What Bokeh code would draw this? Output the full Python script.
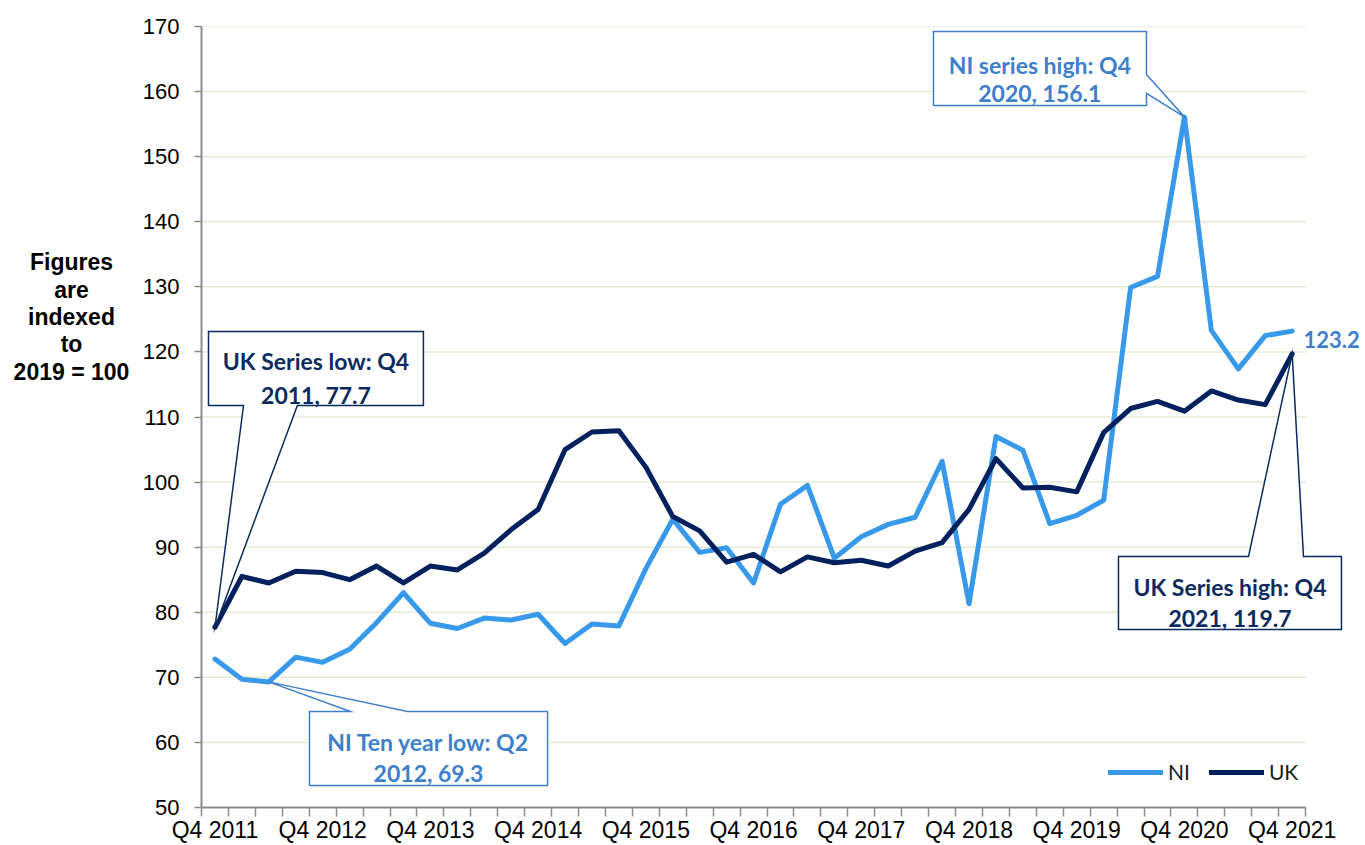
from bokeh.plotting import figure
from bokeh.layouts import row
from bokeh.models import (FixedTicker, Label, Legend, LegendItem,
                          ColumnDataSource, Range1d)
from bokeh.core.properties import value
from bokeh.embed import file_html
from bokeh.resources import INLINE

# ---------------- data ----------------
quarter_index = list(range(41))  # Q4 2011 ... Q4 2021
tick_positions = [0, 4, 8, 12, 16, 20, 24, 28, 32, 36, 40]
tick_labels = ["Q4 2011", "Q4 2012", "Q4 2013", "Q4 2014", "Q4 2015",
               "Q4 2016", "Q4 2017", "Q4 2018", "Q4 2019", "Q4 2020",
               "Q4 2021"]

ni = [72.8, 69.7, 69.3, 73.1, 72.3, 74.3, 78.4, 83.0, 78.3, 77.5,
      79.1, 78.8, 79.7, 75.2, 78.2, 77.9, 86.7, 94.3, 89.2, 89.9,
      84.5, 96.6, 99.5, 88.3, 91.6, 93.5, 94.6, 103.2, 81.3, 107.0,
      104.9, 93.6, 94.9, 97.2, 129.9, 131.6, 156.1, 123.3, 117.4, 122.5,
      123.2]
uk = [77.7, 85.5, 84.5, 86.3, 86.1, 85.0, 87.1, 84.5, 87.1, 86.5,
      89.1, 92.7, 95.8, 105.0, 107.7, 107.9, 102.3, 94.7, 92.5, 87.7,
      88.9, 86.2, 88.5, 87.6, 88.0, 87.1, 89.4, 90.7, 95.8, 103.6,
      99.1, 99.2, 98.5, 107.6, 111.3, 112.4, 110.9, 114.0, 112.6, 111.9,
      119.7]
y_ticks = [50, 60, 70, 80, 90, 100, 110, 120, 130, 140, 150, 160, 170]
y_title_lines = ["Figures", "are", "indexed", "to", "2019 = 100"]

# ---------------- styling ----------------
NI_COLOR = "#3899EB"
UK_COLOR = "#00215E"
NI_NOTE = "#3E7FCC"
UK_NOTE = "#0B2A5E"
GRID = "#E3EAD3"
AXIS = "#8C8C8C"
NOTE_FONT = "Lato"
TICK_FONT = "Liberation Sans"

TOTAL_W, H = 1365, 845
TITLE_W = 135
W = TOTAL_W - TITLE_W
LEFT, RIGHT, TOP, BOTTOM = 66, 0, 26, 37
px_per_cat = 26.93
x_end = -0.5 + (W - LEFT - RIGHT) / px_per_cat

# ---------------- side figure with the horizontal y-axis title ----------------
t = figure(width=TITLE_W, height=H, output_backend="svg",
           toolbar_location=None, x_range=Range1d(0, TITLE_W),
           y_range=Range1d(50, 170), min_border_left=0, min_border_right=0,
           min_border_top=TOP, min_border_bottom=BOTTOM)
t.axis.visible = False
t.grid.grid_line_color = None
t.outline_line_color = None
t.text(x=[71] * len(y_title_lines),
       y=[133.74, 129.59, 125.29, 121.14, 116.89],
       text=y_title_lines, text_align="center", text_baseline="alphabetic",
       text_font=value(TICK_FONT), text_font_style="bold",
       text_font_size="23px", text_color="#000000")

# ---------------- main chart ----------------
p = figure(width=W, height=H, output_backend="svg", toolbar_location=None,
           x_range=Range1d(-0.5, x_end), y_range=Range1d(50, 170),
           min_border_left=LEFT, min_border_right=RIGHT,
           min_border_top=TOP, min_border_bottom=BOTTOM)
p.outline_line_color = None
p.xgrid.grid_line_color = None
p.ygrid.grid_line_color = None
p.background_fill_color = "white"

# horizontal gridlines, limited to the category span
grid_y = [v for v in y_ticks if v > 50]
p.segment(x0=[-0.5] * len(grid_y), x1=[40.5] * len(grid_y),
          y0=grid_y, y1=grid_y, line_color=GRID, line_width=1.5)

# axes
xa = p.xaxis[0]
xa.ticker = FixedTicker(ticks=tick_positions,
                        minor_ticks=[i - 0.5 for i in range(42)])
xa.major_label_overrides = {t_: l for t_, l in zip(tick_positions, tick_labels)}
xa.bounds = (-0.5, 40.5)
xa.axis_line_color = AXIS
xa.axis_line_width = 2
xa.major_tick_out = 0
xa.major_tick_in = 0
xa.minor_tick_out = 9
xa.minor_tick_in = 0
xa.minor_tick_line_color = AXIS
xa.minor_tick_line_width = 1.5
xa.major_label_standoff = 0
xa.major_label_text_font = TICK_FONT
xa.major_label_text_font_size = "23px"
xa.major_label_text_color = "#000000"

ya = p.yaxis[0]
ya.ticker = FixedTicker(ticks=y_ticks, minor_ticks=[])
ya.axis_line_color = AXIS
ya.axis_line_width = 2
ya.major_tick_out = 7
ya.major_tick_in = 0
ya.major_tick_line_color = AXIS
ya.major_tick_line_width = 1.5
ya.minor_tick_out = 0
ya.major_label_standoff = 15
ya.major_label_text_font = TICK_FONT
ya.major_label_text_font_size = "22px"
ya.major_label_text_color = "#000000"

# series
src = ColumnDataSource(dict(x=quarter_index, ni=ni, uk=uk))
r_ni = p.line("x", "ni", source=src, line_color=NI_COLOR, line_width=5,
              line_join="round", line_cap="round")
r_uk = p.line("x", "uk", source=src, line_color=UK_COLOR, line_width=5,
              line_join="round", line_cap="round")

legend = Legend(items=[LegendItem(label="NI", renderers=[r_ni]),
                       LegendItem(label="UK", renderers=[r_uk])],
                orientation="horizontal", location=(907, 23),
                glyph_width=55, glyph_height=20, label_height=20,
                label_standoff=5, spacing=19, padding=0, margin=0,
                border_line_color=None, background_fill_alpha=0,
                label_text_font=NOTE_FONT, label_text_font_size="21px",
                label_text_color="#1A1A1A")
p.add_layout(legend)

# ---------------- callouts ----------------
def callout(box, wedge, side, tip, color, lines, text_x, baselines):
    L, R, T, B = box
    w1, w2 = wedge
    tx, ty = tip
    if side == "bottom":
        xs = [L, R, R, w2, tx, w1, L]
        ys = [T, T, B, B, ty, B, B]
    elif side == "top":
        xs = [L, w1, tx, w2, R, R, L]
        ys = [T, T, ty, T, T, B, B]
    else:  # right
        xs = [L, R, R, tx, R, R, L]
        ys = [T, T, w1, ty, w2, B, B]
    p.patch(xs, ys, fill_color="white", line_color=color, line_width=1.5,
            line_join="miter")
    for txt, by in zip(lines, baselines):
        p.add_layout(Label(x=text_x, y=by, text=txt, text_font=NOTE_FONT,
                           text_font_size="23px", text_font_style="bold",
                           text_color=color, text_align="center",
                           text_baseline="alphabetic"))

callout((-0.24, 7.74, 123.14, 111.77), (1.06, 3.06), "bottom",
        (0, uk[0]), UK_NOTE, ["UK Series low: Q4", "2011, 77.7"],
        3.75, [118.58, 113.35])
callout((3.51, 12.35, 64.75, 53.38), (5.03, 7.15), "top",
        (2, ni[2]), NI_NOTE, ["NI Ten year low: Q2", "2012, 69.3"],
        7.93, [60.03, 55.33])
callout((26.68, 34.59, 169.24, 157.87), (162.63, 159.71), "right",
        (36, ni[36]), NI_NOTE, ["NI series high: Q4", "2020, 156.1"],
        30.63, [164.09, 159.71])
callout((33.55, 41.83, 88.57, 77.35), (38.38, 40.42), "top",
        (40, uk[40]), UK_NOTE, ["UK Series high: Q4", "2021, 119.7"],
        37.69, [83.91, 79.15])

p.add_layout(Label(x=40.42, y=121.91, text="123.2", text_font=NOTE_FONT,
                   text_font_size="22px", text_font_style="bold",
                   text_color=NI_NOTE, text_align="left",
                   text_baseline="alphabetic"))

layout = row(t, p)
open("out.html", "w").write(file_html(layout, INLINE))
